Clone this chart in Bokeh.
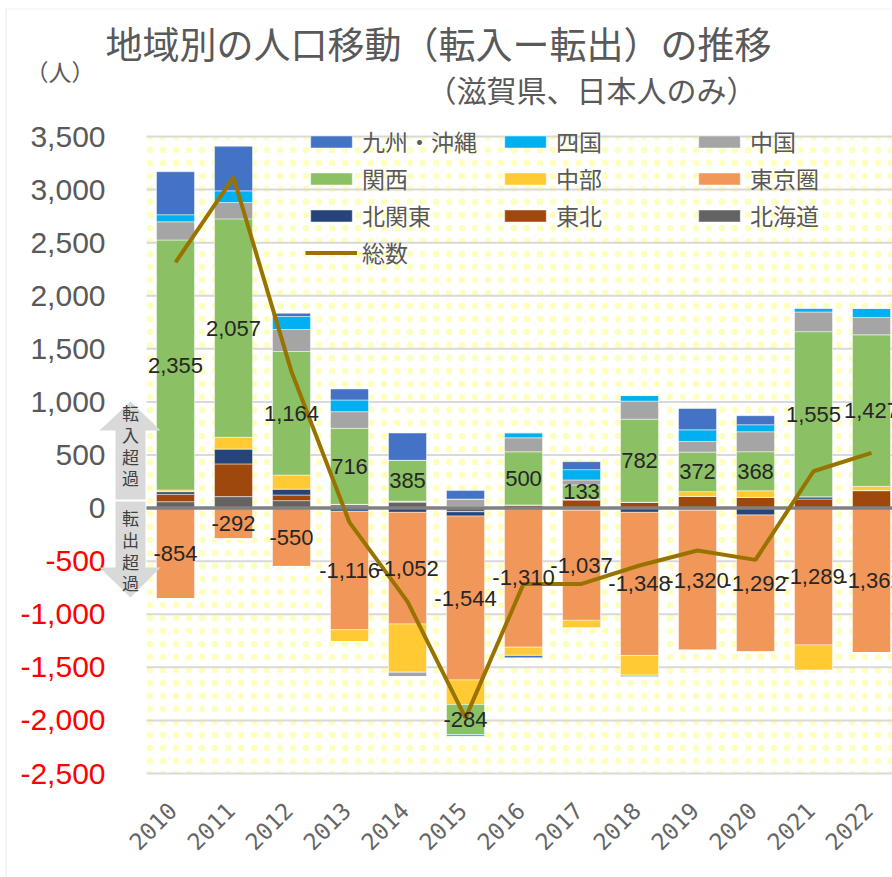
import math
import numpy as np
from bokeh.plotting import figure
from bokeh.models import (ColumnDataSource, Range1d, BoxAnnotation, Label, Legend,
                          LegendItem, PolyAnnotation)
from bokeh.core.properties import value
from bokeh.embed import file_html
from bokeh.resources import INLINE

# ---------------- data ----------------
years = ["2010", "2011", "2012", "2013", "2014", "2015", "2016",
         "2017", "2018", "2019", "2020", "2021", "2022"]

hokkaido  = [60, 108, 70, 20, 55, -35, 0, -20, 0, -20, 0, 0, 0]
tohoku    = [70, 308, 53, 15, 10, 15, 30, 75, 55, 110, 100, 85, 165]
kitakanto = [25, 141, 56, -30, -40, -40, 0, 10, -40, 0, -65, 22, 0]
tokyo     = [-854, -292, -550, -1116, -1052, -1544, -1310, -1037, -1348, -1320, -1292, -1289, -1362]
chubu     = [15, 110, 132, -111, -455, -232, -78, -75, -188, 45, 63, -240, 40]
kansai    = [2355, 2057, 1164, 716, 385, -284, 500, 133, 782, 372, 368, 1555, 1427]
chugoku   = [172, 154, 207, 157, -41, 70, 132, 47, 170, 100, 188, 185, 163]
shikoku   = [66, 110, 122, 110, 0, -16, 47, 97, 53, 110, 66, 35, 85]
kyushu    = [405, 420, 31, 104, 257, 80, -22, 75, -10, 201, 85, 0, 0]
total     = [2314, 3116, 1285, -135, -881, -1976, -714, -714, -541, -400, -488, 347, 520]

yticks = [-2500, -2000, -1500, -1000, -500, 0, 500, 1000, 1500, 2000, 2500, 3000, 3500]

series = [
    ("北海道", hokkaido, "#636363"),
    ("東北", tohoku, "#9E480E"),
    ("北関東", kitakanto, "#264478"),
    ("東京圏", tokyo, "#F1975A"),
    ("中部", chubu, "#FFCA33"),
    ("関西", kansai, "#8CC064"),
    ("中国", chugoku, "#A5A5A5"),
    ("四国", shikoku, "#00B0F0"),
    ("九州・沖縄", kyushu, "#4472C4"),
]
legend_order = ["九州・沖縄", "四国", "中国", "関西", "中部", "東京圏", "北関東", "東北", "北海道"]
labelled = ["関西", "東京圏"]

CJK = "Noto Sans CJK JP"
NUM = "Liberation Sans"
GRAY_TXT = "#595959"

# ---------------- layout (pixel geometry of the plot area) ----------------
W, H = 892, 877
X0_PX, X_STEP = 175, 58.0          # centre of first category, px per category
Y_TOP_PX, Y_BOT_PX = 136, 773      # pixel rows of 3500 and -2500
YMAX, YMIN = 3500, -2500
YPX = (Y_BOT_PX - Y_TOP_PX) / (YMAX - YMIN)

def dx(px):
    return (px - X0_PX) / X_STEP
def dy(py):
    return YMAX - (py - Y_TOP_PX) / YPX

p = figure(width=W, height=H, x_range=Range1d(dx(0), dx(W)), y_range=Range1d(dy(H), dy(0)),
           output_backend="svg", toolbar_location=None, x_axis_type=None, y_axis_type=None,
           min_border=0)
p.min_border_left = p.min_border_right = p.min_border_top = p.min_border_bottom = 0
p.outline_line_color = None
p.background_fill_color = "white"
p.border_fill_color = "white"
p.grid.visible = False

PL, PR = -0.5, dx(W) + 0.5

# chart border (top / left visible)
p.add_layout(BoxAnnotation(left=dx(5.5), right=dx(W + 20), top=dy(8.5), bottom=dy(H + 20),
                           fill_alpha=0, line_color="#C8C8C8", line_width=1.2))

# dotted background of the plot area
p.add_layout(BoxAnnotation(left=PL, right=PR, bottom=YMIN, top=YMAX,
                           fill_color="white", fill_alpha=1.0, line_alpha=0,
                           hatch_pattern="dot", hatch_color="#FFFF99", hatch_scale=13,
                           hatch_weight=1.0, hatch_alpha=0.65, level="image"))

# gridlines
p.segment(x0=[PL] * len(yticks), x1=[PR] * len(yticks), y0=yticks, y1=yticks,
          line_color="#D9D9D9", line_width=2, level="underlay")

# y tick labels (negatives in red)
p.text(x=[dx(105)] * len(yticks), y=yticks, text=[f"{t:,}" for t in yticks],
       text_color=["#FF0000" if t < 0 else GRAY_TXT for t in yticks],
       text_align="right", text_baseline="middle", text_font=value(NUM),
       text_font_size="30px")

# x tick labels (rotated)
xs = list(range(len(years)))
p.text(x=xs, y=[YMIN] * len(xs), text=years, angle=math.pi / 4,
       x_offset=-3, y_offset=33, text_align="right", text_baseline="middle",
       text_font=value("DejaVu Sans Mono"), text_font_size="23px", text_color="#666666")

# ---------------- bars ----------------
pos_base = np.zeros(len(years))
neg_base = np.zeros(len(years))
pos_renderers = {}
lab_x, lab_y, lab_t = [], [], []
for name, vals, color in series:
    v = np.array(vals, dtype=float)
    pos = np.where(v > 0, v, 0.0)
    neg = np.where(v < 0, v, 0.0)
    s_pos = ColumnDataSource(dict(x=xs, top=pos_base + pos, bottom=pos_base.copy()))
    s_neg = ColumnDataSource(dict(x=xs, top=neg_base.copy(), bottom=neg_base + neg))
    r = p.vbar(x="x", top="top", bottom="bottom", width=0.655, source=s_pos,
               fill_color=color, line_color="white", line_width=0.8, line_alpha=0.6)
    p.vbar(x="x", top="top", bottom="bottom", width=0.655, source=s_neg,
           fill_color=color, line_color="white", line_width=0.8, line_alpha=0.6)
    pos_renderers[name] = r
    if name in labelled:
        for i, val in enumerate(vals):
            mid = (pos_base[i] if val > 0 else neg_base[i]) + val / 2
            lab_x.append(i)
            lab_y.append(mid)
            lab_t.append(f"{val:,}")
    pos_base = pos_base + pos
    neg_base = neg_base + neg

# zero axis line
p.segment(x0=[PL], x1=[PR], y0=[0], y1=[0], line_color="#808080", line_width=3.5)

line_r = p.line(xs, total, line_color="#997300", line_width=4)

p.text(x="x", y="y", text="t", source=ColumnDataSource(dict(x=lab_x, y=lab_y, t=lab_t)),
       text_align="center", text_baseline="middle", text_font=value(NUM),
       text_font_size="22px", text_color="#262626")

# ---------------- legend ----------------
items = [LegendItem(label=n, renderers=[pos_renderers[n]]) for n in legend_order]
items.append(LegendItem(label="総数", renderers=[line_r]))
legend = Legend(items=items, location=(305, 608), orientation="horizontal", ncols=3,
                glyph_width=52, glyph_height=15, label_width=134, label_height=30,
                label_standoff=5, spacing=3, padding=0, margin=0,
                label_text_font=CJK, label_text_font_size="23px", label_text_color=GRAY_TXT,
                background_fill_alpha=0, border_line_alpha=0)
p.add_layout(legend)

# ---------------- titles ----------------
p.add_layout(Label(x=dx(105), y=dy(42), text="地域別の人口移動（転入ー転出）の推移",
                   text_align="left", text_baseline="middle", text_font=CJK,
                   text_font_size="37px", text_color=GRAY_TXT))
p.add_layout(Label(x=dx(426), y=dy(88), text="（滋賀県、日本人のみ）",
                   text_align="left", text_baseline="middle", text_font=CJK,
                   text_font_size="30px", text_color=GRAY_TXT))
p.add_layout(Label(x=dx(25), y=dy(70), text="（人）",
                   text_align="left", text_baseline="middle", text_font=CJK,
                   text_font_size="23px", text_color=GRAY_TXT))

# ---------------- arrows ----------------
up_x = [130, 160, 145, 145, 115, 115, 99]
up_y = [401, 430, 430, 499, 499, 430, 430]
dn_x = [115, 145, 145, 160, 130, 99, 115]
dn_y = [501, 501, 567, 567, 597, 567, 567]
p.add_layout(PolyAnnotation(xs=[dx(a) for a in up_x], ys=[dy(b) for b in up_y],
                            fill_color="#D9D9D9", fill_alpha=1, line_alpha=0))
p.add_layout(PolyAnnotation(xs=[dx(a) for a in dn_x], ys=[dy(b) for b in dn_y],
                            fill_color="#D9D9D9", fill_alpha=1, line_alpha=0))
for ch, yy in zip("転入超過", [412, 434, 456, 477]):
    p.add_layout(Label(x=dx(130), y=dy(yy), text=ch, text_align="center", text_baseline="middle",
                       text_font=CJK, text_font_size="17px", text_color="#404040"))
for ch, yy in zip("転出超過", [517, 539, 561, 582]):
    p.add_layout(Label(x=dx(130), y=dy(yy), text=ch, text_align="center", text_baseline="middle",
                       text_font=CJK, text_font_size="17px", text_color="#404040"))

open("out.html", "w").write(file_html(p, INLINE))
